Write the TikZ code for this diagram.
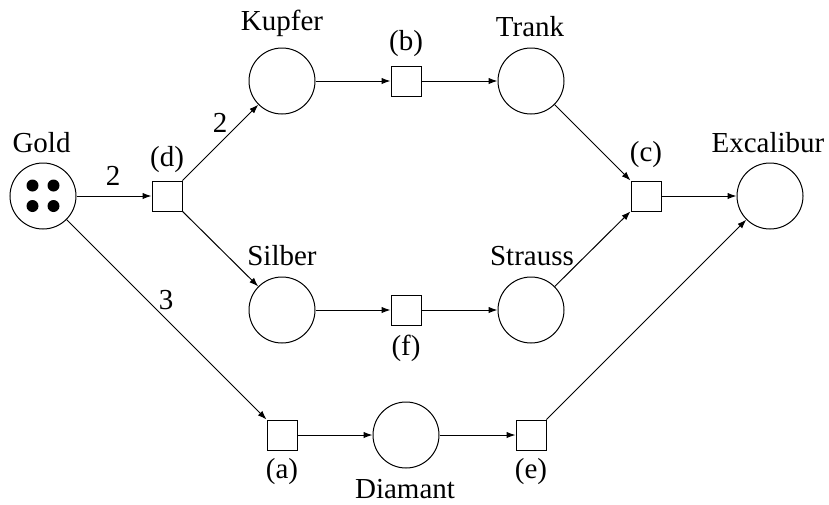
\documentclass[tikz,border=0pt]{standalone}
\usepackage{fontspec}
\setmainfont{Liberation Serif}
\usetikzlibrary{arrows.meta}
\begin{document}
\begin{tikzpicture}[x=0.5pt,y=-0.5pt,
  every node/.style={font=\fontsize{14.5}{16}\selectfont},
  place/.style={circle,draw,line width=0.5pt,minimum size=33pt,inner sep=0pt},
  trans/.style={rectangle,draw,line width=0.5pt,minimum size=15pt,inner sep=0pt},
  lbl/.style={anchor=base,inner sep=0pt},
  token/.style={circle,fill=black,minimum size=6pt,inner sep=0pt},
  arc/.style={-{Latex[length=4.5pt,width=3.2pt]},line width=0.5pt}]
\useasboundingbox (0,0) rectangle (829,504);
% places
\node[place] (gold) at (43,196) {};
\node[place] (kupfer) at (282,81) {};
\node[place] (trank) at (531,81) {};
\node[place] (excal) at (770,196) {};
\node[place] (silber) at (282,310) {};
\node[place] (strauss) at (531,310) {};
\node[place] (diamant) at (406,435) {};
% tokens
\node[token] (t1) at (32.5,185.5) {};
\node[token] (t2) at (53.5,185.5) {};
\node[token] (t3) at (32.5,206) {};
\node[token] (t4) at (53.5,206) {};
% transitions
\node[trans] (d) at (167,196) {};
\node[trans] (b) at (406,81) {};
\node[trans] (c) at (646,196) {};
\node[trans] (f) at (406,310) {};
\node[trans] (a) at (282,435) {};
\node[trans] (e) at (531,435) {};
% labels
\node[lbl] (lgold) at (41.5,152.5) {Gold};
\node[lbl] (ld) at (167,166.5) {(d)};
\node[lbl] (lkupfer) at (282,30.5) {Kupfer};
\node[lbl] (lb) at (406,50) {(b)};
\node[lbl] (ltrank) at (530,36.5) {Trank};
\node[lbl] (lc) at (646,161.5) {(c)};
\node[lbl] (lexcal) at (768,152) {Excalibur};
\node[lbl] (lsilber) at (282,265) {Silber};
\node[lbl] (lstrauss) at (532,265) {Strauss};
\node[lbl] (lf) at (406,355) {(f)};
\node[lbl] (la) at (282,478) {(a)};
\node[lbl] (le) at (531,478) {(e)};
\node[lbl] (ldiamant) at (405,498) {Diamant};
% arc weights
\node[lbl] (w1) at (113,185) {2};
\node[lbl] (w2) at (220,132) {2};
\node[lbl] (w3) at (166,309) {3};
% arcs
\draw[arc] (gold) -- (d);
\draw[arc] (d) -- (kupfer);
\draw[arc] (d) -- (silber);
\draw[arc] (kupfer) -- (b);
\draw[arc] (b) -- (trank);
\draw[arc] (trank) -- (c);
\draw[arc] (silber) -- (f);
\draw[arc] (f) -- (strauss);
\draw[arc] (strauss) -- (c);
\draw[arc] (c) -- (excal);
\draw[arc] (gold) -- (a);
\draw[arc] (a) -- (diamant);
\draw[arc] (diamant) -- (e);
\draw[arc] (e) -- (excal);
\end{tikzpicture}
\end{document}
